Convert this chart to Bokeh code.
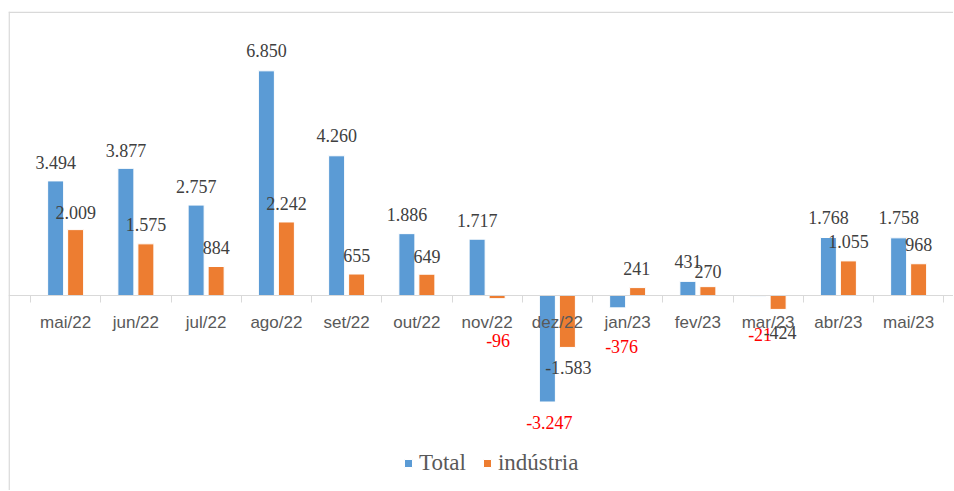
import numpy as np
from bokeh.plotting import figure
from bokeh.models import ColumnDataSource, Range1d, FixedTicker, Legend, LegendItem, Span
from bokeh.core.properties import value
from bokeh.embed import file_html
from bokeh.resources import INLINE

# ---- data ----
meses = ["mai/22", "jun/22", "jul/22", "ago/22", "set/22", "out/22", "nov/22",
         "dez/22", "jan/23", "fev/23", "mar/23", "abr/23", "mai/23"]
total = [3494, 3877, 2757, 6850, 4260, 1886, 1717, -3247, -376, 431, -21, 1768, 1758]
industria = [2009, 1575, 884, 2242, 655, 649, -96, -1583, 241, 270, -424, 1055, 968]

# ---- label placement (screen px, relative to bar end) ----
total_dx = [0, 0, 0, 0, 0, 0, 0, 2, 4, 0, 2, 0, 0]
total_dy = [-18, -18, -19, -20, -20, -19, -19, 20, 39, -20, 38, -20, -20]
ind_dx = [0, 0, 0, 0, 0, 0, 1, 1, -1, 0, 2, 0, 0]
ind_dy = [-17, -19, -19, -18, -19, -18, 42, 20, -19, -15, 23, -19, -19]
total_red = [False] * 7 + [True, True, False, True, False, False]
ind_red = [False] * 6 + [True] + [False] * 6

BLUE = "#5B9BD5"
ORANGE = "#ED7D31"
GRID = "#D9D9D9"

def fmt(v):
    s = f"{abs(v):,}".replace(",", ".")
    return ("-" if v < 0 else "") + s

n = len(meses)
PX = 70.25                     # pixels per category
centers = np.arange(n) + 0.5
off = 10 / PX
bw = 16 / PX

W, H = 953, 490
ML, MT = 8, 11
fw = W - ML
x0 = -22 / PX
y1 = 8659
p = figure(width=W, height=H, output_backend="svg", toolbar_location=None,
           x_range=Range1d(x0, x0 + fw / PX),
           y_range=Range1d(-5945, y1),
           y_axis_location=None,
           min_border_left=ML, min_border_right=0, min_border_top=MT, min_border_bottom=0)
p.grid.visible = False
p.outline_line_color = None
p.background_fill_color = "white"
p.border_fill_color = "white"

# chart-area border (left and top edges visible in the reference)
p.add_layout(Span(location=x0 + 0.6 / PX, dimension="height", line_color=GRID, line_width=1.5))
p.add_layout(Span(location=y1 - 20, dimension="width", line_color=GRID, line_width=1.5))

src_t = ColumnDataSource(dict(x=centers - off, top=total))
src_i = ColumnDataSource(dict(x=centers + off, top=industria))
r1 = p.vbar(x="x", top="top", bottom=0, width=bw, source=src_t,
            fill_color=BLUE, line_color="white", line_width=1)
r2 = p.vbar(x="x", top="top", bottom=0, width=bw, source=src_i,
            fill_color=ORANGE, line_color="white", line_width=1)

lab = ColumnDataSource(dict(
    x=list(centers - off) + list(centers + off),
    y=total + industria,
    text=[fmt(v) for v in total] + [fmt(v) for v in industria],
    dx=total_dx + ind_dx,
    dy=total_dy + ind_dy,
    color=["#FF0000" if r else "#404040" for r in total_red + ind_red],
))
p.text(x="x", y="y", text="text", x_offset="dx", y_offset="dy", source=lab,
       text_color="color", text_align="center", text_baseline="middle",
       text_font=value("Liberation Serif"), text_font_size="18px")

ax = p.xaxis[0]
ax.fixed_location = 0
ax.ticker = FixedTicker(ticks=list(centers), minor_ticks=list(range(n + 1)))
ax.major_label_overrides = {float(c): m for c, m in zip(centers, meses)}
ax.axis_line_color = GRID
ax.major_tick_line_color = None
ax.major_tick_out = 0
ax.major_tick_in = 0
ax.minor_tick_line_color = GRID
ax.minor_tick_out = 7
ax.minor_tick_in = 0
ax.major_label_standoff = 10
ax.major_label_text_font = "Liberation Sans"
ax.major_label_text_font_size = "17px"
ax.major_label_text_color = "#595959"

legend = Legend(items=[LegendItem(label="Total", renderers=[r1]),
                       LegendItem(label="indústria", renderers=[r2])],
                orientation="horizontal", location=(395, 14))
legend.background_fill_alpha = 0
legend.border_line_color = None
legend.padding = 0
legend.margin = 0
legend.glyph_width = 10
legend.glyph_height = 10
legend.label_standoff = 6
legend.spacing = 16
legend.label_text_font = "Liberation Serif"
legend.label_text_font_size = "23px"
legend.label_text_color = "#595959"
p.add_layout(legend, "center")

open("out.html", "w").write(file_html(p, INLINE))
